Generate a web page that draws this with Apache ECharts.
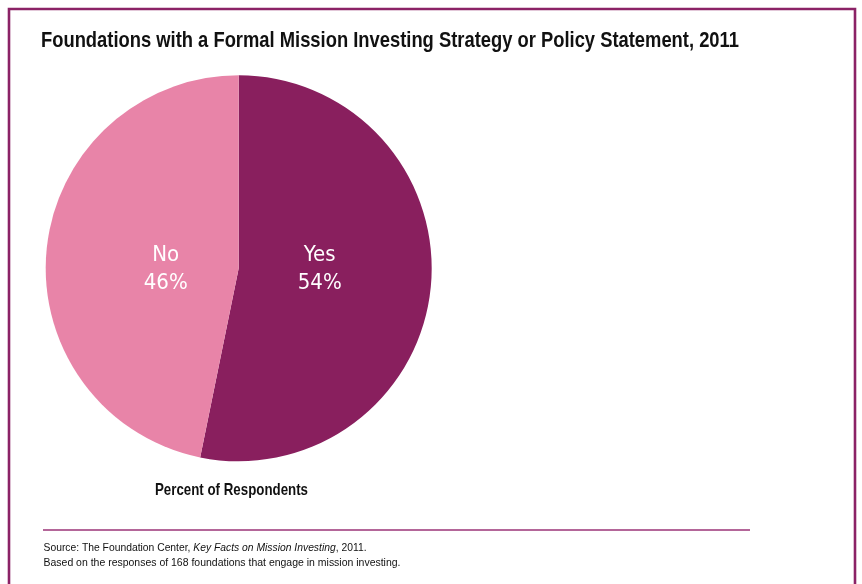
<!DOCTYPE html>
<html><head><meta charset="utf-8">
<script src="https://cdn.jsdelivr.net/npm/echarts@6/dist/echarts.min.js"></script>
<style>html,body{margin:0;padding:0;background:#fff}#c{width:862px;height:584px}</style>
</head><body><div id="c"></div>
<script>
var categories = ['Yes', 'No'];
var sliceValues = [53.2, 46.8];          // slice sizes as drawn in the picture
var labelPercents = ['54%', '46%'];      // percentages printed on the slices
var sliceColors = ['#891F5E', '#E884A8'];

var titleText = 'Foundations with a Formal Mission Investing Strategy or Policy Statement, 2011';
var subText = 'Percent of Respondents';
var srcPre = 'Source: The Foundation Center, ', srcItal = 'Key Facts on Mission Investing', srcPost = ', 2011.';
var noteText = 'Based on the responses of 168 foundations that engage in mission investing.';

var FAM = '"Liberation Sans", Arial, sans-serif';
var LBLFONT = '"DejaVu Sans Condensed", "Liberation Sans", sans-serif';
var cx = 238.7, cy = 268.3, R = 193;
var labelOffsets = [81, -73];

var ctx = document.createElement('canvas').getContext('2d');
function w(font, s) { ctx.font = font; return ctx.measureText(s).width; }
function fit(target, width) { return target / width; }

var titleScale = fit(698, w('bold 22px ' + FAM, titleText));
var subScale = fit(153, w('bold 17px ' + FAM, subText));
var src1W = w('11.5px ' + FAM, srcPre) + w('italic 11.5px ' + FAM, srcItal) + w('11.5px ' + FAM, srcPost);
var src1Scale = fit(323, src1W);
var src2Scale = fit(357, w('11.5px ' + FAM, noteText));

var chart = echarts.init(document.getElementById('c'), null, {renderer: 'canvas'});
chart.setOption({
  animation: false,
  backgroundColor: '#fff',
  graphic: [{
    type: 'polyline', silent: true,
    shape: {points: [[9, 590], [9, 9], [855, 9], [855, 590]]},
    style: {stroke: '#8B2266', lineWidth: 2.6, fill: null}
  }, {
    type: 'line', silent: true,
    shape: {x1: 43, y1: 530, x2: 750, y2: 530},
    style: {stroke: '#9B3377', lineWidth: 1.6}
  }, {
    type: 'text', silent: true, x: 41, y: 40.5, scaleX: titleScale,
    style: {text: titleText, font: 'bold 22px ' + FAM, fill: '#111', align: 'left', verticalAlign: 'middle'}
  }, {
    type: 'text', silent: true, x: 231.5, y: 490.5, scaleX: subScale,
    style: {text: subText, font: 'bold 17px ' + FAM, fill: '#111', align: 'center', verticalAlign: 'middle'}
  }, {
    type: 'text', silent: true, x: 43.5, y: 547.5, scaleX: src1Scale,
    style: {
      text: '{n|' + srcPre + '}{i|' + srcItal + '}{n|' + srcPost + '}',
      align: 'left', verticalAlign: 'middle',
      rich: {
        n: {fontFamily: FAM, fontSize: 11.5, fill: '#111'},
        i: {fontFamily: FAM, fontSize: 11.5, fontStyle: 'italic', fill: '#111'}
      }
    }
  }, {
    type: 'text', silent: true, x: 43.5, y: 562.5, scaleX: src2Scale,
    style: {text: noteText, font: '11.5px ' + FAM, fill: '#111', align: 'left', verticalAlign: 'middle'}
  }],
  series: [{
    type: 'pie',
    center: [cx, cy],
    radius: [0, R],
    startAngle: 90,
    clockwise: true,
    silent: true,
    itemStyle: {borderWidth: 0},
    label: {
      show: true, position: 'inside',
      formatter: function (p) { return p.name + '\n' + labelPercents[p.dataIndex]; },
      fontFamily: LBLFONT, fontSize: 22, lineHeight: 28, color: '#fff', align: 'center'
    },
    labelLine: {show: false},
    labelLayout: function (p) {
      return {x: cx + labelOffsets[p.dataIndex], y: cy + 1, align: 'center', verticalAlign: 'middle'};
    },
    data: categories.map(function (c, i) {
      return {name: c, value: sliceValues[i], itemStyle: {color: sliceColors[i]}};
    })
  }]
});
</script></body></html>
